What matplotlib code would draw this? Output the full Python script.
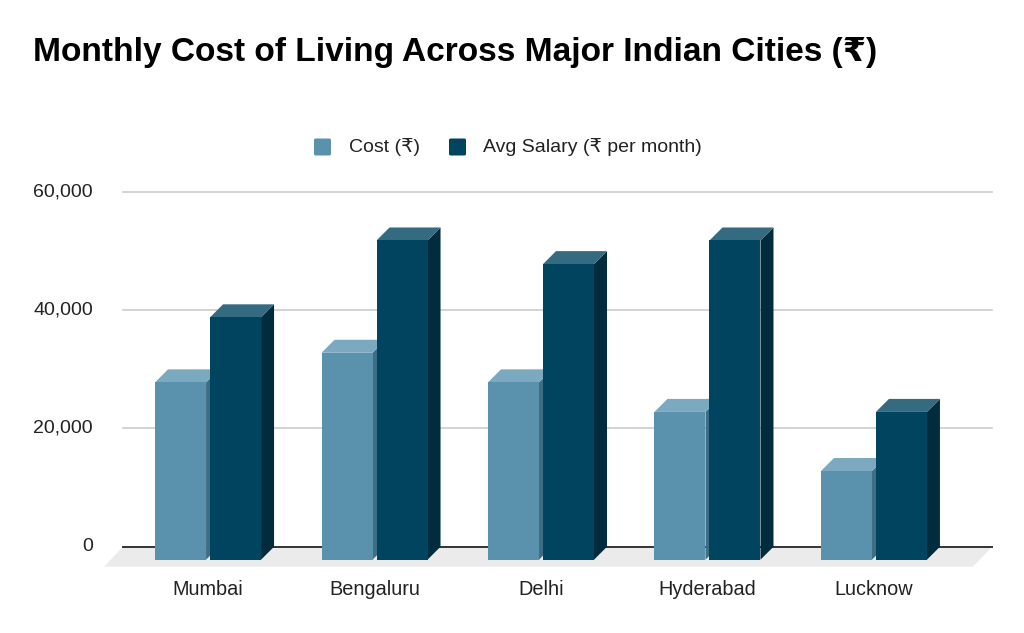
import matplotlib
matplotlib.use("Agg")
import matplotlib.pyplot as plt
from matplotlib.patches import Polygon, Rectangle, FancyBboxPatch

cities = ["Mumbai", "Bengaluru", "Delhi", "Hyderabad", "Lucknow"]
cost = [30000, 35000, 30000, 25000, 15000]
salary = [41000, 54000, 50000, 54000, 25000]
series_names = ["Cost (₹)", "Avg Salary (₹ per month)"]
yticks = [0, 20000, 40000, 60000]
ytick_labels = ["0", "20,000", "40,000", "60,000"]
title = "Monthly Cost of Living Across Major Indian Cities (₹)"

FONT = ["Liberation Sans", "DejaVu Sans"]
plt.rcParams["font.family"] = FONT

W, H = 1024, 633
fig = plt.figure(figsize=(W / 100, H / 100), dpi=100)
fig.patch.set_facecolor("white")

# axes placed so the back wall spans the plot area
x_left, x_right = 123, 992
y_zero, y_top = 546.7, 192
ax = fig.add_axes([x_left / W, (H - y_zero) / H, (x_right - x_left) / W, (y_zero - y_top) / H])
ax.set_xlim(-0.589, 4.631)
ax.set_ylim(0, 60000)
ax.axis("off")

# pixel -> data conversions
p0 = ax.transData.transform((0, 0))
p1 = ax.transData.transform((1, 20000))
ppx = p1[0] - p0[0]
ppy = (p1[1] - p0[1]) / 20000.0

def dx(px):
    return px / ppx

def dy(px):
    return px / ppy

D = 13  # bar depth in px
FD_X, FD_Y = 19, 20  # floor depth

xl, xr = ax.get_xlim()

# gridlines
for t in yticks[1:]:
    ax.plot([xl, xr], [t, t], color="#cccccc", lw=1.2, zorder=1, clip_on=False)

# floor
floor = Polygon([(xl, 0), (xr, 0), (xr - dx(FD_X), -dy(FD_Y)), (xl - dx(FD_X), -dy(FD_Y))],
                closed=True, facecolor="#ebebeb", edgecolor="none", zorder=0.5, clip_on=False)
ax.add_patch(floor)
ax.plot([xl, xr], [0, 0], color="#333333", lw=1.4, zorder=1.5, clip_on=False)

# tick labels
for t, lab in zip(yticks, ytick_labels):
    ax.text(xl - dx(30), t, lab, ha="right", va="center", fontsize=14, color="#222222", clip_on=False)

w = 51 / ppx
hg = 2 / ppx
colors = {
    0: ("#5a92ae", "#7aa9c0", "#3e6e86"),
    1: ("#01445f", "#356b81", "#002c3e"),
}

def bar3d(x0, v, cols):
    front, top, side = cols
    ddx, ddy = dx(D), dy(D)
    ax.add_patch(Polygon([(x0 + w, 0), (x0 + w, v), (x0 + w - ddx, v - ddy), (x0 + w - ddx, -ddy)],
                         closed=True, facecolor=side, edgecolor="none", zorder=3, clip_on=False))
    ax.add_patch(Polygon([(x0, v), (x0 + w, v), (x0 + w - ddx, v - ddy), (x0 - ddx, v - ddy)],
                         closed=True, facecolor=top, edgecolor="none", zorder=3, clip_on=False))
    ax.add_patch(Rectangle((x0 - ddx, -ddy), w, v, facecolor=front, edgecolor="none",
                           zorder=3, clip_on=False))

for i, (c, s) in enumerate(zip(cost, salary)):
    bar3d(i - hg - w, c, colors[0])
    bar3d(i + hg, s, colors[1])
    ax.text(i - dx(D), -dy(43), cities[i], ha="center", va="center", fontsize=14.3,
            color="#222222", clip_on=False)

# title
fig.text(33 / W, 1 - 52 / H, title, ha="left", va="center", fontsize=24.1,
         fontweight="bold", color="black")

# legend
leg_y = 1 - 147 / H
sq = 17
for (xs, xt, col, name) in [(314, 349, colors[0][0], series_names[0]),
                            (449, 483, colors[1][0], series_names[1])]:
    fig.patches.append(FancyBboxPatch((xs / W, leg_y - sq / 2 / H), sq / W, sq / H,
                                      boxstyle="round,pad=0,rounding_size=0.002",
                                      transform=fig.transFigure, facecolor=col, edgecolor="none"))
    fig.text(xt / W, leg_y, name, ha="left", va="center", fontsize=14, color="#222222")

fig.savefig("out.png", dpi=100, facecolor="white")
